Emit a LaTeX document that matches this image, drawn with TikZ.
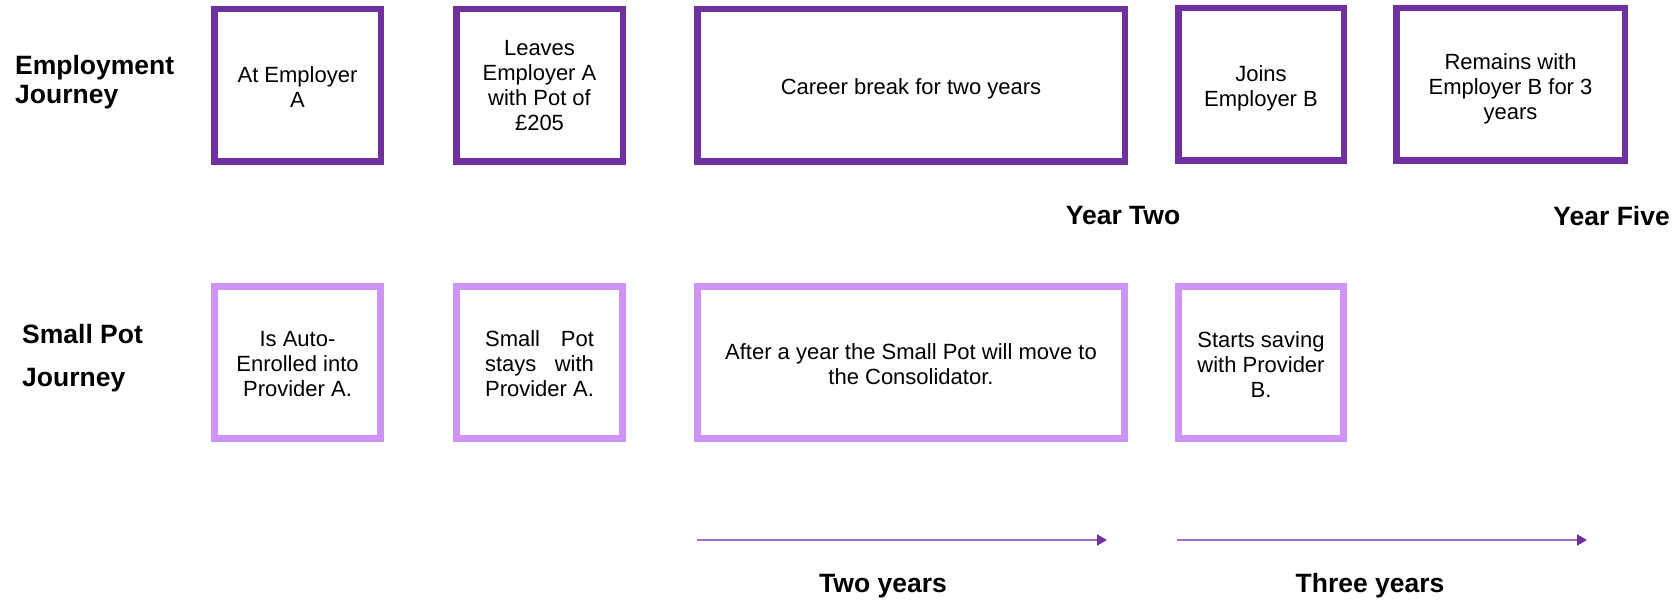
\documentclass[tikz,border=0pt]{standalone}
\usepackage{fontspec}
\setmainfont{Liberation Sans}
\usepackage{calc}
\usetikzlibrary{arrows.meta}
\definecolor{empPurple}{HTML}{7030A0}
\definecolor{potLilac}{RGB}{205,148,245}
\definecolor{arrowLine}{RGB}{160,112,200}
% stretch a line of words to the width of a reference text
\newcommand\spreadline[2]{\makebox[\widthof{#2}][s]{#1}}

\begin{document}
\begin{tikzpicture}[x=1pt,y=-1pt,
  boxtext/.style={font=\fontsize{22}{25}\selectfont, align=center, inner sep=0pt},
  empbox/.style={draw=empPurple, line width=6.5pt, minimum height=152.5pt},
  potbox/.style={draw=potLilac, line width=6.7pt, minimum height=152.5pt},
  rowlabel/.style={font=\fontsize{26.5}{29}\selectfont\bfseries, align=left, anchor=west, inner sep=0pt},
  steplabel/.style={font=\fontsize{26.5}{30}\selectfont\bfseries, inner sep=0pt},
  spanarrow/.style={draw=arrowLine, line width=2pt,
    -{Triangle[length=10pt,width=11pt,color=empPurple,fill=empPurple]}}]

\path[use as bounding box] (0,0) rectangle (1677,601);

% row labels
\node[rowlabel] (lemp) at (15,82.5) {Employment\\Journey};
\node[rowlabel, font=\fontsize{26.5}{43}\selectfont\bfseries] (lpot) at (22,358.5) {Small Pot\\Journey};

% employment journey: frames
\node[empbox, minimum width=166.5pt] (e1) at (297.5,85.5) {};
\node[empbox, minimum width=166.5pt] (e2) at (539.5,85.5) {};
\node[empbox, minimum width=427.5pt] (e3) at (911,85.5) {};
\node[empbox, minimum width=165.5pt] (e4) at (1261,84.5) {};
\node[empbox, minimum width=228.5pt] (e5) at (1510.5,84.5) {};
% employment journey: texts
\node[boxtext, yshift=-2pt] (e1t) at (e1.center) {At Employer\\A};
\node[boxtext] (e2t) at (e2.center) {Leaves\\Employer A\\with Pot of\\£205};
\node[boxtext, yshift=-3pt] (e3t) at (e3.center) {Career break for two years};
\node[boxtext, yshift=-4pt] (e4t) at (e4.center) {Joins\\Employer B};
\node[boxtext, yshift=-4pt] (e5t) at (e5.center) {Remains with\\Employer B for 3\\years};

% milestones
\node[steplabel] (y2) at (1123,216) {Year Two};
\node[steplabel, anchor=east] (y5) at (1670,216) {Year Five};

% small pot journey: frames
\node[potbox, minimum width=166.5pt] (p1) at (297.5,362.5) {};
\node[potbox, minimum width=166.5pt] (p2) at (539.5,362.5) {};
\node[potbox, minimum width=427.5pt] (p3) at (911,362.5) {};
\node[potbox, minimum width=165.5pt] (p4) at (1261,362.5) {};
% small pot journey: texts
\node[boxtext, yshift=-2pt] (p1t) at (p1.center) {Is Auto-\\Enrolled into\\Provider A.};
\node[boxtext, yshift=-1pt] (p2t) at (p2.center)
  {\spreadline{Small Pot}{Provider A.}\\\spreadline{stays with}{Provider A.}\\Provider A.};
\node[boxtext, yshift=-2pt] (p3t) at (p3.center) {After a year the Small Pot will move to\\the Consolidator.};
\node[boxtext, yshift=-2pt] (p4t) at (p4.center) {Starts saving\\with Provider\\B.};

% duration arrows
\coordinate (a1s) at (697,540);
\coordinate (a1e) at (1107,540);
\coordinate (a2s) at (1177,540);
\coordinate (a2e) at (1587,540);
\draw[spanarrow] (a1s) -- (a1e);
\draw[spanarrow] (a2s) -- (a2e);
\node[steplabel] (d1) at (883,586) {Two years};
\node[steplabel] (d2) at (1370,586) {Three years};
\end{tikzpicture}
\end{document}
